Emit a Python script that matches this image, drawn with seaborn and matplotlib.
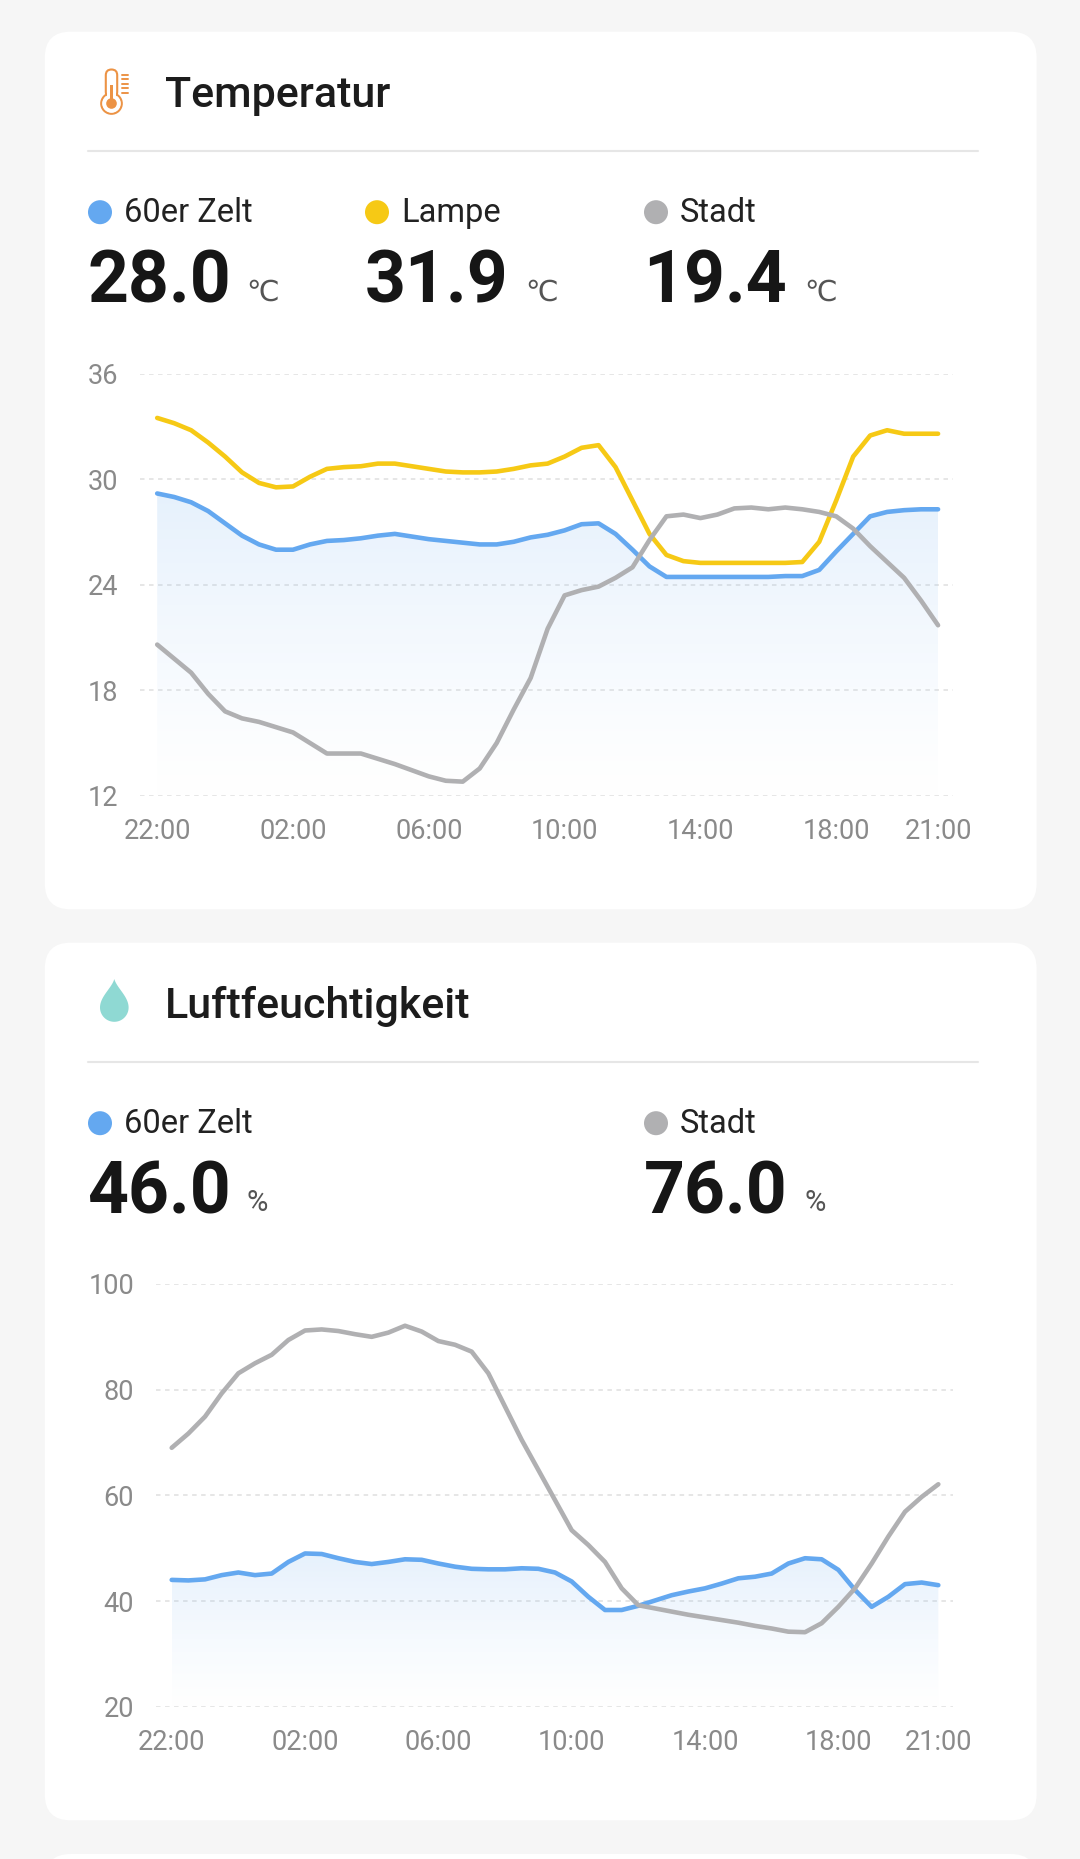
import numpy as np
import pandas as pd
import matplotlib
matplotlib.use('Agg')
import matplotlib.pyplot as plt
from matplotlib.patches import FancyBboxPatch, Circle, Rectangle, Polygon
from matplotlib.colors import LinearSegmentedColormap
import seaborn as sns

W, H = 1080, 1859

# Half-hourly samples, hours counted from 22:00
hours = np.arange(0, 23.5, 0.5)
tick_hours = [0, 4, 8, 12, 16, 20, 23]
tick_labels = ['22:00', '02:00', '06:00', '10:00', '14:00', '18:00', '21:00']

temp_zelt = [29.2, 29.0, 28.7, 28.2, 27.5, 26.8, 26.3, 26.0, 26.0, 26.3,
             26.5, 26.55, 26.65, 26.8, 26.9, 26.75, 26.6, 26.5, 26.4, 26.3,
             26.3, 26.45, 26.7, 26.85, 27.1, 27.45, 27.5, 26.9, 26.0, 25.05,
             24.45, 24.45, 24.45, 24.45, 24.45, 24.45, 24.45, 24.5, 24.5, 24.85,
             25.9, 26.9, 27.9, 28.15, 28.25, 28.3, 28.3]
temp_lampe = [33.5, 33.2, 32.8, 32.1, 31.3, 30.4, 29.8, 29.55, 29.6, 30.15,
              30.6, 30.7, 30.75, 30.9, 30.9, 30.75, 30.6, 30.45, 30.4, 30.4,
              30.45, 30.6, 30.8, 30.9, 31.3, 31.8, 31.95, 30.7, 28.8, 26.9,
              25.7, 25.35, 25.25, 25.25, 25.25, 25.25, 25.25, 25.25, 25.3, 26.45,
              28.8, 31.3, 32.5, 32.8, 32.6, 32.6, 32.6]
temp_stadt = [20.6, 19.8, 19.0, 17.8, 16.8, 16.4, 16.2, 15.9, 15.6, 15.0,
              14.4, 14.4, 14.4, 14.1, 13.8, 13.45, 13.1, 12.85, 12.8, 13.55,
              15.0, 16.9, 18.7, 21.5, 23.4, 23.7, 23.9, 24.4, 25.0, 26.55,
              27.9, 28.0, 27.8, 28.0, 28.35, 28.4, 28.3, 28.4, 28.3, 28.15,
              27.9, 27.2, 26.2, 25.3, 24.4, 23.1, 21.7]

hum_zelt = [44.0, 43.9, 44.1, 44.9, 45.4, 44.9, 45.2, 47.4, 49.0, 48.9,
            48.1, 47.4, 47.0, 47.4, 47.9, 47.8, 47.1, 46.5, 46.1, 46.0,
            46.0, 46.2, 46.1, 45.4, 43.7, 40.8, 38.3, 38.3, 39.1, 40.1,
            41.1, 41.8, 42.4, 43.3, 44.3, 44.6, 45.2, 47.1, 48.1, 47.9,
            45.9, 42.1, 38.9, 40.8, 43.2, 43.5, 43.0]
hum_stadt = [69.0, 71.7, 74.9, 79.3, 83.1, 85.0, 86.6, 89.4, 91.2, 91.4,
             91.1, 90.5, 90.0, 90.8, 92.1, 91.0, 89.2, 88.5, 87.2, 83.1,
             76.8, 70.5, 64.8, 59.1, 53.4, 50.6, 47.4, 42.4, 39.2, 38.6,
             38.0, 37.4, 36.9, 36.4, 35.9, 35.3, 34.8, 34.2, 34.1, 35.8,
             38.9, 42.4, 47.1, 52.2, 56.9, 59.7, 62.1]

temp_names = ['60er Zelt', 'Lampe', 'Stadt']
temp_now = ['28.0', '31.9', '19.4']
hum_names = ['60er Zelt', 'Stadt']
hum_now = ['46.0', '76.0']

colors = {'60er Zelt': '#64a8f0', 'Lampe': '#f6c915', 'Stadt': '#b0b0b2'}
FONT = ['Roboto', 'DejaVu Sans']

sns.set_style('white')
plt.rcParams['font.family'] = FONT

fig = plt.figure(figsize=(W / 100, H / 100), dpi=100)
fig.patch.set_facecolor('#f6f6f6')

bg = fig.add_axes([0, 0, 1, 1])
bg.set_xlim(0, W)
bg.set_ylim(H, 0)
bg.axis('off')
bg.set_facecolor('none')

# cards
for top, hgt in [(31.7, 877.6), (942.7, 877.6), (1854, 200)]:
    bg.add_patch(FancyBboxPatch((44.8, top), 991.8, hgt,
                                boxstyle='round,pad=0,rounding_size=26',
                                fc='white', ec='none'))

col_dot = [100, 377, 656]
col_unit = [248, 527, 806]


def header(top, title, names, values, unit, cols):
    bg.text(165, top + 75.5, title, fontsize=31, fontweight='medium',
            color='#1c1c1c', va='baseline', ha='left')
    bg.plot([88, 978], [top + 119.3, top + 119.3], color='#e6e6e6', lw=1.5)
    for name, val, c in zip(names, values, cols):
        x = col_dot[c]
        bg.add_patch(Circle((x, top + 180.5), 12, fc=colors[name], ec='none'))
        bg.text(x + 24, top + 190.5, name, fontsize=23.5, color='#222222',
                va='baseline', ha='left')
        bg.text(x - 12.5, top + 270.5, val, fontsize=51.5, fontweight='bold',
                color='#161616', va='baseline', ha='left')
        bg.text(col_unit[c] - 2, top + 268.5, unit, fontsize=21, color='#555555',
                va='baseline', ha='left', family=FONT)


header(31.7, 'Temperatur', temp_names, temp_now, '\u2103', [0, 1, 2])
header(942.7, 'Luftfeuchtigkeit', hum_names, hum_now, '%', [0, 2])

# thermometer icon
orange = '#ec9345'
bg.add_patch(Circle((111.5, 103.5), 10.3, fc='white', ec=orange, lw=1.5))
bg.add_patch(FancyBboxPatch((105.8, 69.5), 11.4, 28, boxstyle='round,pad=0,rounding_size=5.7',
                            fc='white', ec=orange, lw=1.5))
bg.add_patch(Circle((111.5, 103.5), 9.0, fc='white', ec='none'))
bg.add_patch(Rectangle((107.2, 90), 8.6, 8, fc='white', ec='none'))
bg.add_patch(Rectangle((110.2, 85), 2.6, 16, fc=orange, ec='none'))
bg.add_patch(Circle((111.5, 103.5), 5.3, fc=orange, ec='none'))
for ty in [75, 79.4, 83.8, 88.2, 92.6]:
    bg.plot([121.8, 128.2], [ty, ty], color=orange, lw=1.4, solid_capstyle='round')

# drop icon
cx, cy, r, tip = 114.3, 1007.5, 14.3, 979.0
t = np.linspace(0, 1, 40)[:, None]
p0, p1, p2, p3 = [np.array(p) for p in [(cx, tip), (cx + 2.5, tip + 9), (cx + r, cy - 11), (cx + r, cy)]]
right = (1 - t) ** 3 * p0 + 3 * (1 - t) ** 2 * t * p1 + 3 * (1 - t) * t ** 2 * p2 + t ** 3 * p3
ang = np.linspace(0, np.pi, 60)
arc = np.column_stack([cx + r * np.cos(ang), cy + r * np.sin(ang)])
left = right[::-1].copy()
left[:, 0] = 2 * cx - left[:, 0]
bg.add_patch(Polygon(np.vstack([right, arc, left]), closed=True, fc='#8fd9d3', ec='none'))

grad_cmap = LinearSegmentedColormap.from_list('fade', [(1, 1, 1, 0), (0.39, 0.66, 0.94, 0.16)])


def chart(px, xlim, ylim, yticks, names, series):
    l, r_, t_, b = px
    ax = fig.add_axes([l / W, 1 - b / H, (r_ - l) / W, (b - t_) / H])
    ax.set_facecolor('none')
    df = pd.concat([pd.DataFrame({'hour': hours, 'value': s, 'series': n})
                    for n, s in zip(names, series)], ignore_index=True)

    # gradient area under the first series
    poly = ax.fill_between(hours, series[0], ylim[0], color='none', lw=0)
    grad = np.linspace(1, 0, 256).reshape(-1, 1) ** 0.6
    im = ax.imshow(grad, extent=[hours[0], hours[-1], ylim[0], max(series[0])],
                   aspect='auto', cmap=grad_cmap, origin='upper', zorder=1)
    im.set_clip_path(poly.get_paths()[0], transform=ax.transData)

    sns.lineplot(data=df, x='hour', y='value', hue='series', hue_order=names,
                 palette=colors, linewidth=3.3, legend=False, ax=ax,
                 estimator=None, sort=False, zorder=3)
    for ln in ax.lines:
        ln.set_solid_capstyle('round')
        ln.set_solid_joinstyle('round')

    ax.set_xlim(*xlim)
    ax.set_ylim(*ylim)
    ax.set_yticks(yticks)
    ax.set_xticks(tick_hours)
    ax.set_xticklabels(tick_labels)
    ax.set_xlabel('')
    ax.set_ylabel('')
    ax.yaxis.grid(True, color='#e4e4e4', linestyle=(0, (2.5, 2.5)), lw=1.3)
    ax.xaxis.grid(False)
    ax.set_axisbelow(True)
    for s in ax.spines.values():
        s.set_visible(False)
    ax.tick_params(axis='both', length=0, labelsize=19.5, labelcolor='#8a8a8a')
    ax.tick_params(axis='y', pad=15.5)
    ax.tick_params(axis='x', pad=16)
    return ax


chart((139.7, 953, 374, 795.7), (-0.515, 23.44), (12, 36), [12, 18, 24, 30, 36],
      temp_names, [temp_zelt, temp_lampe, temp_stadt])
chart((155.7, 953, 1284, 1706.7), (-0.48, 23.44), (20, 100), [20, 40, 60, 80, 100],
      hum_names, [hum_zelt, hum_stadt])

fig.savefig('out.png', dpi=100, facecolor=fig.get_facecolor())
